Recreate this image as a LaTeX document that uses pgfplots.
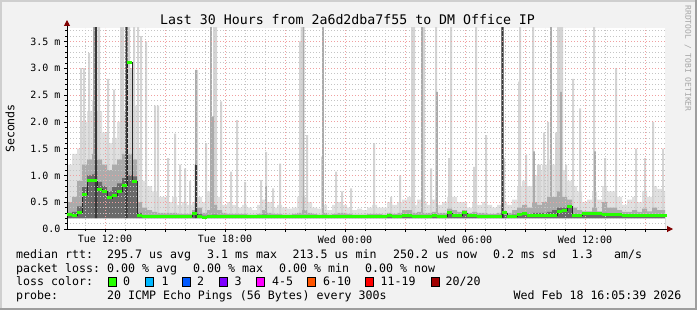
\documentclass[border=0pt]{standalone}
\usepackage{fontspec}
\setmainfont{DejaVu Sans Mono}
\newfontfamily\mono{DejaVu Sans Mono}
\usepackage{pgfplots}
\pgfplotsset{compat=1.18}
\usepackage{pgfplotstable}
\usetikzlibrary{arrows.meta}

\definecolor{bgc}{HTML}{F2F2F2}
\definecolor{shadea}{HTML}{CFCFCF}
\definecolor{shadeb}{HTML}{9E9E9E}
\definecolor{gridc}{HTML}{C4C4C4}
\definecolor{mgridc}{HTML}{F0A0A0}
\definecolor{arrowc}{HTML}{800000}
\definecolor{smokeB}{HTML}{E0E0E0}
\definecolor{smokeL}{HTML}{D4D4D4}
\definecolor{smokeM}{HTML}{ABABAB}
\definecolor{smokeD}{HTML}{6A6A6A}
\definecolor{smokeK}{HTML}{383838}
\definecolor{lc0}{HTML}{26FF00}
\definecolor{lc1}{HTML}{00B8FF}
\definecolor{lc2}{HTML}{0059FF}
\definecolor{lc3}{HTML}{7E00FF}
\definecolor{lc4}{HTML}{FF00FF}
\definecolor{lc6}{HTML}{FF5500}
\definecolor{lc11}{HTML}{FF0000}
\definecolor{lc20}{HTML}{A10000}

\newcommand{\lf}{\mono\fontsize{11.6bp}{14bp}\selectfont}
\newcommand{\tf}{\mono\fontsize{10bp}{12bp}\selectfont}

% 15-minute bins starting at Tue 10:06 (hours since Tue 00:00 = 10.1 + 0.25*index)
% mx = top of light smoke body, md = medium smoke, dk = dark smoke, med = median rtt (ms)
\pgfplotstableread{
mx md dk med
1.2 0.5 0.30 0.27
1.4 0.6 0.32 0.25
1.5 0.9 0.42 0.31
2.0 1.2 0.78 0.64
2.2 1.3 1.00 0.90
2.4 1.4 1.02 0.90
2.2 1.3 0.88 0.74
1.8 1.2 0.80 0.70
1.6 1.1 0.70 0.58
1.7 1.2 0.78 0.62
2.0 1.3 0.85 0.70
2.2 1.4 0.95 0.82
2.4 1.4 1.00 3.10
2.3 1.3 0.98 0.88
1.5 0.5 0.30 0.26
0.9 0.4 0.26 0.24
0.8 0.35 0.25 0.24
0.7 0.32 0.25 0.24
0.6 0.3 0.25 0.24
0.6 0.3 0.25 0.24
0.5 0.3 0.25 0.24
0.6 0.3 0.25 0.24
0.45 0.28 0.25 0.24
0.5 0.28 0.25 0.24
0.45 0.28 0.25 0.24
0.5 0.35 0.28 0.28
0.6 0.4 0.28 0.24
0.5 0.3 0.25 0.22
0.7 0.35 0.25 0.23
0.9 0.45 0.27 0.23
0.6 0.35 0.25 0.24
0.45 0.3 0.25 0.24
0.5 0.28 0.25 0.23
0.45 0.28 0.25 0.23
0.4 0.28 0.25 0.24
0.45 0.28 0.25 0.24
0.4 0.27 0.25 0.24
0.35 0.27 0.25 0.24
0.45 0.28 0.25 0.24
0.55 0.35 0.27 0.24
0.5 0.3 0.25 0.24
0.4 0.28 0.25 0.24
0.45 0.28 0.25 0.23
0.4 0.27 0.25 0.23
0.38 0.27 0.25 0.23
0.4 0.28 0.25 0.23
0.6 0.3 0.25 0.24
0.6 0.35 0.26 0.24
0.5 0.3 0.25 0.24
0.4 0.28 0.25 0.24
0.38 0.27 0.25 0.24
0.45 0.3 0.25 0.23
0.35 0.27 0.25 0.23
0.45 0.28 0.25 0.23
0.5 0.3 0.25 0.24
0.45 0.3 0.26 0.24
0.4 0.28 0.25 0.24
0.35 0.27 0.25 0.24
0.38 0.27 0.25 0.24
0.35 0.27 0.25 0.24
0.4 0.28 0.25 0.24
0.45 0.28 0.25 0.24
0.4 0.28 0.25 0.24
0.4 0.27 0.25 0.24
0.5 0.3 0.26 0.25
0.45 0.28 0.25 0.24
0.5 0.3 0.25 0.24
0.55 0.35 0.27 0.25
0.6 0.35 0.27 0.25
0.45 0.3 0.25 0.24
0.55 0.32 0.25 0.24
0.5 0.3 0.25 0.24
0.45 0.3 0.25 0.24
0.55 0.32 0.26 0.25
0.45 0.3 0.25 0.24
0.5 0.3 0.25 0.24
0.6 0.38 0.28 0.30
0.6 0.35 0.27 0.26
0.5 0.32 0.26 0.25
0.5 0.35 0.28 0.30
0.4 0.3 0.26 0.25
0.5 0.32 0.26 0.25
0.45 0.3 0.25 0.24
0.5 0.3 0.25 0.24
0.45 0.28 0.25 0.24
0.4 0.28 0.25 0.24
0.45 0.3 0.25 0.24
0.5 0.32 0.26 0.30
0.45 0.3 0.25 0.24
0.55 0.35 0.27 0.24
0.8 0.4 0.28 0.27
0.9 0.45 0.3 0.28
0.8 0.4 0.28 0.26
1.0 0.5 0.3 0.26
1.1 0.45 0.3 0.25
1.2 0.5 0.3 0.25
1.3 0.6 0.32 0.25
1.2 0.6 0.35 0.25
1.4 0.7 0.4 0.33
1.1 0.6 0.4 0.34
0.9 0.55 0.42 0.42
0.8 0.4 0.28 0.25
0.7 0.35 0.27 0.25
0.5 0.33 0.29 0.28
0.55 0.33 0.29 0.29
0.7 0.4 0.3 0.29
0.55 0.33 0.28 0.28
0.8 0.5 0.3 0.27
0.7 0.4 0.28 0.27
0.7 0.4 0.28 0.27
0.6 0.35 0.28 0.27
0.45 0.32 0.27 0.26
0.55 0.32 0.27 0.26
0.6 0.35 0.27 0.26
0.5 0.32 0.27 0.26
0.7 0.38 0.27 0.26
0.6 0.33 0.27 0.26
0.8 0.4 0.27 0.26
0.75 0.35 0.27 0.26
0.7 0.35 0.27 0.26
0.7 0.35 0.27 0.26
}\smoke

% single-interval spikes of the light smoke (hour, top in ms)
\pgfplotstableread{
h v
10.8 3.0
10.95 3.0
11.2 3.28
11.7 3.8
12.15 2.8
12.45 2.6
12.8 3.8
12.9 3.8
13.2 3.8
13.3 3.0
13.45 3.8
13.65 3.8
13.8 3.6
14.05 3.5
14.5 2.3
14.65 2.3
15.15 1.32
15.5 1.78
15.75 1.2
16.0 1.13
16.25 0.9
16.6 2.97
17.05 1.6
17.45 3.8
17.55 3.8
17.8 2.38
18.3 1.07
18.6 2.03
19.0 0.88
19.8 0.91
20.05 1.44
20.4 0.76
20.75 1.22
21.75 3.5
21.825 3.8
22.1 1.75
22.85 1.35
23.55 1.07
23.85 0.7
24.3 0.76
25.45 1.6
26.3 0.6
26.75 1.0
27.35 3.8
27.45 3.8
27.95 3.8
28.3 1.13
28.55 3.8
29.2 1.32
29.3 3.8
30.45 1.16
30.55 3.8
31.05 1.75
31.95 1.32
32.7 2.75
32.75 3.8
33.05 1.38
33.4 3.8
33.65 1.2
33.75 1.2
33.95 1.8
34.15 2.0
34.55 1.8
34.65 3.8
34.75 3.8
34.85 3.8
35.05 1.2
35.4 2.8
35.75 2.25
36.45 3.8
37.0 1.32
37.55 3.0
38.55 1.5
39.0 1.32
39.4 2.0
39.9 1.5
}\spikeL

% spikes of the medium smoke
\pgfplotstableread{
h v
11.45 3.8
16.55 2.97
17.3 3.8
17.4 2.1
20.05 0.8
21.925 3.8
22.9 3.8
27.85 3.8
28.6 2.56
33.45 1.45
34.3 3.8
34.8 2.56
36.5 1.45
}\spikeM

% spikes of the dark smoke
\pgfplotstableread{
h v
11.55 3.8
13.075 3.8
16.55 1.2
31.875 3.8
}\spikeD

\begin{document}
\begin{tikzpicture}[x=1bp,y=1bp]
% canvas and frame
\fill[bgc] (0,0) rectangle (697,310);
\fill[shadea] (0,308) rectangle (697,310);
\fill[shadea] (0,0) rectangle (2,310);
\fill[shadeb] (0,0) rectangle (697,2);
\fill[shadeb] (695,0) rectangle (697,310);

\begin{axis}[
  at={(67bp,81bp)}, anchor=south west,
  scale only axis, width=598bp, height=201bp,
  xmin=10.1, xmax=40.0, ymin=0, ymax=3.75,
  axis on top,
  axis background/.style={fill=white},
  axis lines=left,
  axis line style={black, line width=1bp},
  x axis line style={shorten >=-8bp, shorten <=-3bp, -{Triangle[length=6bp,width=6bp,color=arrowc]}},
  y axis line style={shorten >=-8bp, -{Triangle[length=6bp,width=6bp,color=arrowc]}},
  xtick={12,15,18,21,24,27,30,33,36,39},
  xticklabels={Tue 12:00,,Tue 18:00,,Wed 00:00,,Wed 06:00,,Wed 12:00,},
  minor xtick={11,13,14,16,17,19,20,22,23,25,26,28,29,31,32,34,35,37,38},
  ytick={0,0.5,1,1.5,2,2.5,3,3.5},
  yticklabels={0.0,0.5 m,1.0 m,1.5 m,2.0 m,2.5 m,3.0 m,3.5 m},
  minor ytick={0.1,0.2,0.3,0.4,0.6,0.7,0.8,0.9,1.1,1.2,1.3,1.4,1.6,1.7,1.8,1.9,2.1,2.2,2.3,2.4,2.6,2.7,2.8,2.9,3.1,3.2,3.3,3.4,3.6,3.7},
  grid=both,
  major grid style={mgridc, dash pattern=on 1bp off 2bp, line width=0.7bp},
  minor grid style={gridc, dash pattern=on 1bp off 2bp, line width=0.7bp},
  tick align=outside,
  major tick length=3bp, minor tick length=2bp,
  tick style={black, line width=0.6bp},
  ticklabel style={font=\tf},
  every axis y label/.style={at={(axis description cs:-0.0953,0.5)}, rotate=90, anchor=center},
  ylabel={Seconds},
  ylabel style={font=\lf},
]
\addplot[const plot, fill=smokeB, draw=none] table[x expr={10.1+0.25*\coordindex}, y=mx] {\smoke} \closedcycle;
\addplot[ybar, bar width=2bp, bar shift=0pt, fill=smokeL, draw=none] table[x=h, y=v] {\spikeL};
\addplot[const plot, fill=smokeM, draw=none] table[x expr={10.1+0.25*\coordindex}, y=md] {\smoke} \closedcycle;
\addplot[ybar, bar width=1.8bp, bar shift=0pt, fill=smokeM, draw=none] table[x=h, y=v] {\spikeM};
\addplot[const plot, fill=smokeD, draw=none] table[x expr={10.1+0.25*\coordindex}, y=dk] {\smoke} \closedcycle;
\addplot[ybar, bar width=2.2bp, bar shift=0pt, fill=smokeK, draw=none] table[x=h, y=v] {\spikeD};
\addplot[const plot, fill=white, draw=none] coordinates {(10.1,0.2) (40.25,0.2)} \closedcycle;
\addplot[const plot, draw=black!85, line width=0.7bp] table[x expr={10.1+0.25*\coordindex}, y=med] {\smoke};
\addplot[only marks, mark=-, mark size=2.5bp, mark options={line width=3bp, draw=lc0}, skip coords between index={120}{121}]
  table[x expr={10.225+0.25*\coordindex}, y=med] {\smoke};
\end{axis}

% title and side text
\node[anchor=base, inner sep=0, font=\mono\fontsize{13.25bp}{16bp}\selectfont] at (347.5,286) {Last 30 Hours from 2a6d2dba7f55 to DM Office IP};
\node[rotate=-90, inner sep=0, anchor=center, text=black!35, font=\mono\fontsize{8bp}{9bp}\selectfont] at (688,251.5) {RRDTOOL / TOBI OETIKER};

% legend lines
\begin{scope}[every node/.style={anchor=base west, inner sep=0, font=\lf}]
\node at (16,51.5) {median rtt:};
\node at (107,51.5) {295.7 us avg};
\node at (207,51.5) {3.1 ms max};
\node at (292.5,51.5) {213.5 us min};
\node at (393,51.5) {250.2 us now};
\node at (493,51.5) {0.2 ms sd};
\node at (571.5,51.5) {1.3};
\node at (614,51.5) {am/s};

\node at (16,38) {packet loss:};
\node at (107,38) {0.00 \% avg};
\node at (193,38) {0.00 \% max};
\node at (279,38) {0.00 \% min};
\node at (365,38) {0.00 \% now};

\node at (16,24.3) {loss color:};
\node at (123,24.3) {0};
\node at (161.5,24.3) {1};
\node at (197,24.3) {2};
\node at (234.5,24.3) {3};
\node at (272,24.3) {4-5};
\node at (323,24.3) {6-10};
\node at (380.5,24.3) {11-19};
\node at (445.5,24.3) {20/20};

\node at (16,10.8) {probe:};
\node at (107,10.8) {20 ICMP Echo Pings (56 Bytes) every 300s};
\node[anchor=base east] at (681.5,10.8) {Wed Feb 18 16:05:39 2026};
\end{scope}

\foreach \bx/\bc in {108.3/lc0,145.7/lc1,182.7/lc2,219.3/lc3,256/lc4,307.7/lc6,365.7/lc11,431/lc20}
  \filldraw[fill=\bc, draw=black, line width=0.8bp] (\bx,23.6) rectangle ++(8,8.6);
\end{tikzpicture}
\end{document}
